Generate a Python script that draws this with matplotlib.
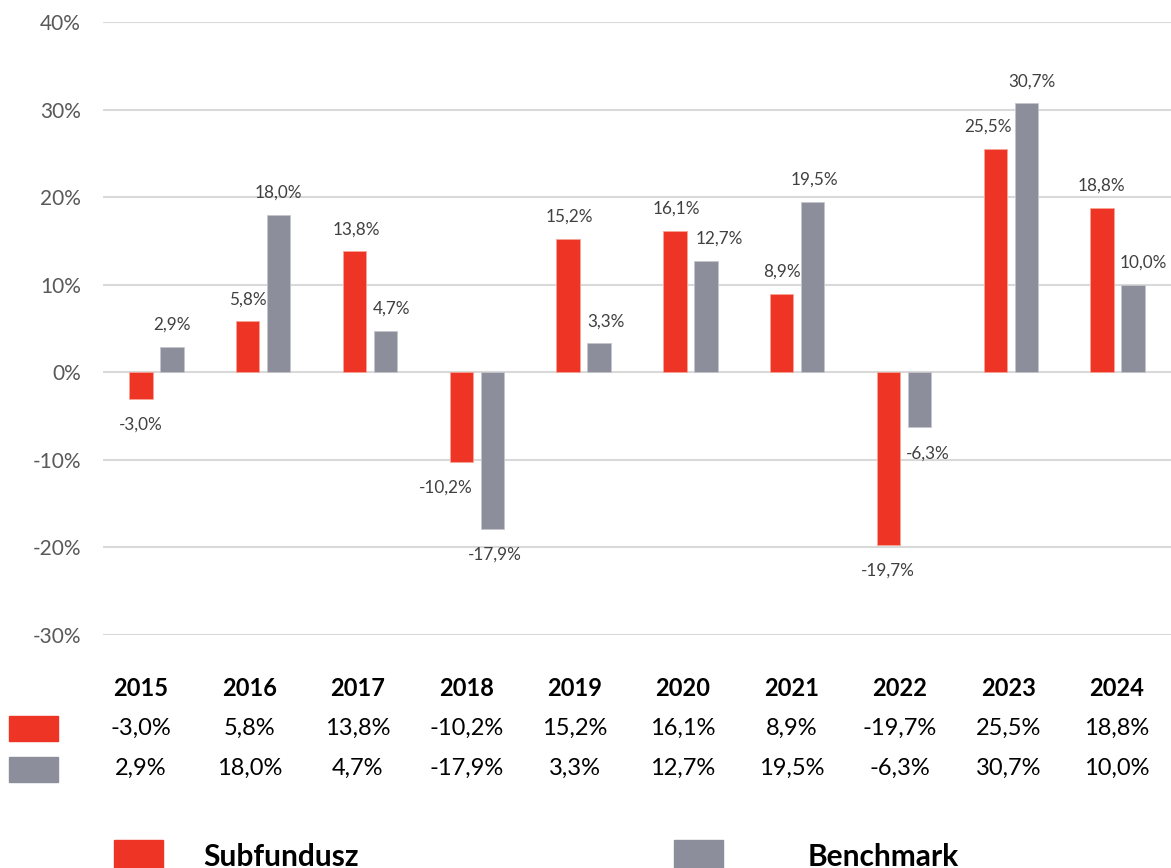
"""Annual returns: Subfundusz vs Benchmark, bar chart with value table below."""

import matplotlib

matplotlib.use("Agg")
import matplotlib.pyplot as plt
import numpy as np
from matplotlib.patches import Rectangle

years = ["2015", "2016", "2017", "2018", "2019", "2020", "2021", "2022", "2023", "2024"]
subfundusz = [-3.0, 5.8, 13.8, -10.2, 15.2, 16.1, 8.9, -19.7, 25.5, 18.8]
benchmark = [2.9, 18.0, 4.7, -17.9, 3.3, 12.7, 19.5, -6.3, 30.7, 10.0]
series_names = ["Subfundusz", "Benchmark"]
y_ticks = [-30, -20, -10, 0, 10, 20, 30, 40]

RED = "#EE3424"
GRAY = "#8C8F9B"
TEXT = "#404040"
FONT = ["Lato", "DejaVu Sans"]

W, H = 1171, 868
plt.rcParams["font.family"] = FONT


def fx(px):
    return px / W


def fy(py):
    return 1 - py / H


def pct(v):
    return f"{v:.1f}%".replace(".", ",")


fig = plt.figure(figsize=(W / 100, H / 100), dpi=100)
ax = fig.add_axes([fx(103), fy(635), fx(1171) - fx(103), fy(22) - fy(635)])

x = np.arange(len(years))
off, bw = 0.145, 0.22
bars_r = ax.bar(x - off, subfundusz, bw, color=RED, edgecolor="#F6A597", linewidth=0.6, zorder=3)
bars_g = ax.bar(x + off, benchmark, bw, color=GRAY, edgecolor="#C3C5CC", linewidth=0.6, zorder=3)

# small horizontal nudges of the value labels (pixels), as in the original
nudge_r = [0, 0, 2, -16, 1, 1, 0, -1, -7, -1]
nudge_g = [0, 0, 6, 3, 7, 13, 2, 8, 6, 10]
for bars, vals, nudge in [(bars_r, subfundusz, nudge_r), (bars_g, benchmark, nudge_g)]:
    for b, v, dx in zip(bars, vals, nudge):
        ax.annotate(
            pct(v),
            (b.get_x() + b.get_width() / 2, v),
            xytext=(dx * 0.72, 16 if v >= 0 else -18.5),
            textcoords="offset points",
            ha="center",
            va="center",
            fontsize=12.3,
            color=TEXT,
        )

ax.set_xlim(-0.5, len(years) - 0.5)
ax.set_ylim(y_ticks[0], y_ticks[-1])
ax.set_yticks(y_ticks)
ax.set_yticklabels([f"{t}%" for t in y_ticks], fontsize=15, color="#595959")
ax.set_xticks([])
ax.tick_params(axis="y", length=0, pad=16)
ax.grid(axis="y", color="#D9D9D9", linewidth=1.5, zorder=0)
ax.set_axisbelow(True)
for s in ax.spines.values():
    s.set_visible(False)
ax.patch.set_alpha(0)

# value table under the chart
col0, col_step = 141, 108.4
for i, yr in enumerate(years):
    cx = fx(col0 + i * col_step)
    fig.text(cx, fy(688), yr, ha="center", va="center", fontsize=17, fontweight="bold", color="black")
    fig.text(cx, fy(728), pct(subfundusz[i]), ha="center", va="center", fontsize=17, color="black")
    fig.text(cx, fy(768), pct(benchmark[i]), ha="center", va="center", fontsize=17, color="black")

for py, c in [(716, RED), (757, GRAY)]:
    fig.patches.append(
        Rectangle((fx(9), fy(py + 25)), fx(49), 25 / H, transform=fig.transFigure, color=c)
    )

# legend at the bottom
for name, c, sx, tx in [(series_names[0], RED, 114, 203), (series_names[1], GRAY, 674, 808)]:
    fig.patches.append(
        Rectangle((fx(sx), fy(875)), fx(49), 35 / H, transform=fig.transFigure, color=c)
    )
    fig.text(fx(tx), fy(866), name, ha="left", va="baseline", fontsize=21.5, fontweight="bold", color="black")

fig.savefig("out.png", dpi=100)
